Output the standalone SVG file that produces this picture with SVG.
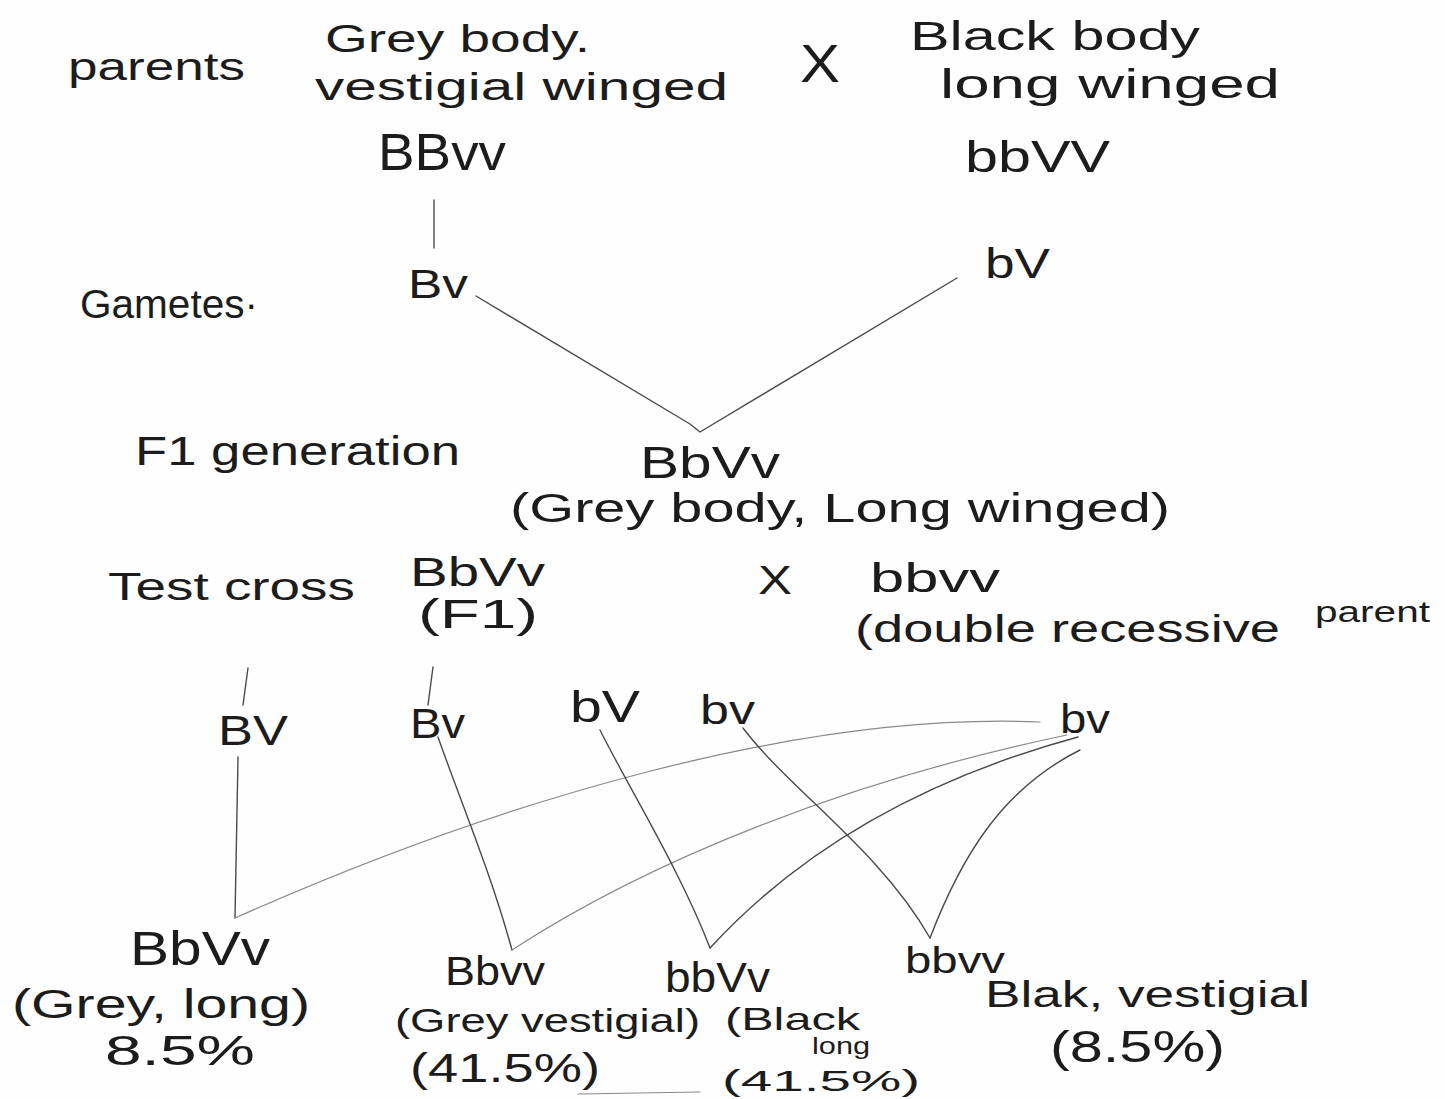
<svg xmlns="http://www.w3.org/2000/svg" width="1445" height="1099" viewBox="0 0 1445 1099">
<style>
text{font-family:"Liberation Sans","DejaVu Sans",sans-serif;fill:#1c1c1c;}
.l{fill:none;stroke:#4a4a4a;stroke-width:1.4;stroke-linecap:round;stroke-linejoin:round;}
.f{fill:none;stroke:#8a8a8a;stroke-width:1.2;stroke-linecap:round;}
</style>
<rect width="1445" height="1099" fill="#fefefe"/>
<g id="connectors">
<path class="l" d="M434,200 L434,248"/>
<path class="l" d="M476,296 L690,424 L700,432 L957,278"/>
<path class="l" d="M248,668 L243,705"/>
<path class="l" d="M433,667 L428,705"/>
<path class="l" d="M238,757 L235,918"/>
<path class="f" d="M235,918 C500,800 800,712 1040,722"/>
<path class="l" d="M438,737 C460,800 490,870 512,950"/>
<path class="f" d="M512,950 C650,860 850,780 1067,735"/>
<path class="l" d="M600,730 C630,790 680,870 710,948"/>
<path class="l" d="M710,948 C800,850 920,780 1078,737"/>
<path class="l" d="M743,728 C790,790 880,850 930,938"/>
<path class="l" d="M930,938 C960,860 1000,790 1080,750"/>
<path class="f" d="M578,1094 L700,1092"/>
</g>
<g id="parents-label"><text x="68" y="80" font-size="38" textLength="177" lengthAdjust="spacingAndGlyphs">parents</text></g>
<g id="parent1">
<text x="325" y="52" font-size="38" textLength="265" lengthAdjust="spacingAndGlyphs">Grey body.</text>
<text x="315" y="100" font-size="38" textLength="413" lengthAdjust="spacingAndGlyphs">vestigial winged</text>
<text x="378" y="170" font-size="52" textLength="128" lengthAdjust="spacingAndGlyphs">BBvv</text>
</g>
<g id="cross1"><text x="800" y="82" font-size="54" textLength="40" lengthAdjust="spacingAndGlyphs">X</text></g>
<g id="parent2">
<text x="910" y="50" font-size="40" textLength="290" lengthAdjust="spacingAndGlyphs">Black body</text>
<text x="940" y="98" font-size="40" textLength="340" lengthAdjust="spacingAndGlyphs">long winged</text>
<text x="965" y="172" font-size="44" textLength="145" lengthAdjust="spacingAndGlyphs">bbVV</text>
</g>
<g id="gametes-label"><text x="80" y="318" font-size="40" textLength="178" lengthAdjust="spacingAndGlyphs">Gametes·</text></g>
<g id="gamete1"><text x="408" y="298" font-size="40" textLength="60" lengthAdjust="spacingAndGlyphs">Bv</text></g>
<g id="gamete2"><text x="985" y="278" font-size="42" textLength="65" lengthAdjust="spacingAndGlyphs">bV</text></g>
<g id="f1-label"><text x="135" y="465" font-size="40" textLength="325" lengthAdjust="spacingAndGlyphs">F1 generation</text></g>
<g id="f1">
<text x="640" y="478" font-size="44" textLength="140" lengthAdjust="spacingAndGlyphs">BbVv</text>
<text x="510" y="522" font-size="40" textLength="660" lengthAdjust="spacingAndGlyphs">(Grey body, Long winged)</text>
</g>
<g id="testcross-label"><text x="108" y="600" font-size="38" textLength="247" lengthAdjust="spacingAndGlyphs">Test cross</text></g>
<g id="tc-f1">
<text x="410" y="586" font-size="40" textLength="135" lengthAdjust="spacingAndGlyphs">BbVv</text>
<text x="418" y="628" font-size="40" textLength="120" lengthAdjust="spacingAndGlyphs">(F1)</text>
</g>
<g id="cross2"><text x="758" y="594" font-size="40" textLength="34" lengthAdjust="spacingAndGlyphs">X</text></g>
<g id="tc-recessive">
<text x="870" y="592" font-size="40" textLength="130" lengthAdjust="spacingAndGlyphs">bbvv</text>
<text x="855" y="642" font-size="38" textLength="425" lengthAdjust="spacingAndGlyphs">(double recessive</text>
<text x="1315" y="622" font-size="30" textLength="115" lengthAdjust="spacingAndGlyphs">parent</text>
</g>
<g id="g-BV"><text x="218" y="745" font-size="42" textLength="70" lengthAdjust="spacingAndGlyphs">BV</text></g>
<g id="g-Bv"><text x="410" y="738" font-size="42" textLength="55" lengthAdjust="spacingAndGlyphs">Bv</text></g>
<g id="g-bV"><text x="570" y="722" font-size="44" textLength="70" lengthAdjust="spacingAndGlyphs">bV</text></g>
<g id="g-bv"><text x="700" y="724" font-size="40" textLength="55" lengthAdjust="spacingAndGlyphs">bv</text></g>
<g id="g-bv2"><text x="1060" y="733" font-size="40" textLength="50" lengthAdjust="spacingAndGlyphs">bv</text></g>
<g id="o-BbVv">
<text x="130" y="965" font-size="48" textLength="140" lengthAdjust="spacingAndGlyphs">BbVv</text>
<text x="12" y="1018" font-size="40" textLength="298" lengthAdjust="spacingAndGlyphs">(Grey, long)</text>
<text x="105" y="1065" font-size="42" textLength="150" lengthAdjust="spacingAndGlyphs">8.5%</text>
</g>
<g id="o-Bbvv">
<text x="445" y="985" font-size="40" textLength="100" lengthAdjust="spacingAndGlyphs">Bbvv</text>
<text x="395" y="1032" font-size="34" textLength="305" lengthAdjust="spacingAndGlyphs">(Grey vestigial)</text>
<text x="410" y="1082" font-size="40" textLength="190" lengthAdjust="spacingAndGlyphs">(41.5%)</text>
</g>
<g id="o-bbVv">
<text x="665" y="992" font-size="42" textLength="105" lengthAdjust="spacingAndGlyphs">bbVv</text>
<text x="725" y="1030" font-size="32" textLength="135" lengthAdjust="spacingAndGlyphs">(Black</text>
<text x="812" y="1054" font-size="24" textLength="58" lengthAdjust="spacingAndGlyphs">long</text>
<text x="722" y="1091" font-size="29" textLength="198" lengthAdjust="spacingAndGlyphs">(41.5%)</text>
</g>
<g id="o-bbvv">
<text x="905" y="973" font-size="36" textLength="100" lengthAdjust="spacingAndGlyphs">bbvv</text>
<text x="985" y="1007" font-size="36" textLength="325" lengthAdjust="spacingAndGlyphs">Blak, vestigial</text>
<text x="1050" y="1062" font-size="44" textLength="175" lengthAdjust="spacingAndGlyphs">(8.5%)</text>
</g>
</svg>
